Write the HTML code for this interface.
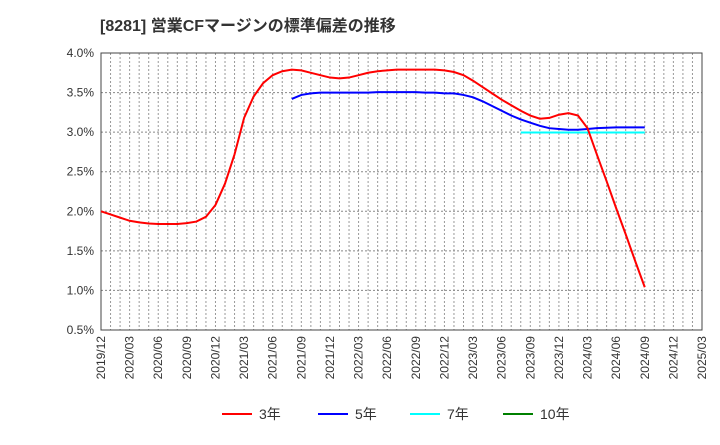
<!DOCTYPE html>
<html><head><meta charset="utf-8"><style>
body{margin:0;background:#fff;font-family:"Liberation Sans","Noto Sans CJK JP",sans-serif}
</style></head><body>
<svg id="c" width="720" height="440" xmlns="http://www.w3.org/2000/svg">
<text x="100" y="31" font-size="16" font-weight="bold" fill="#333" font-family="Liberation Sans, Noto Sans CJK JP, sans-serif">[8281] 営業CFマージンの標準偏差の推移</text>
<g id="grid"></g><g id="axes"></g><g id="series"></g><g id="legend"></g>
</svg>
<script>
const xLabels=["2019/12","2020/03","2020/06","2020/09","2020/12","2021/03","2021/06","2021/09","2021/12","2022/03","2022/06","2022/09","2022/12","2023/03","2023/06","2023/09","2023/12","2024/03","2024/06","2024/09","2024/12","2025/03"];
const yTicks=[0.5,1.0,1.5,2.0,2.5,3.0,3.5,4.0];
const red=[2.0,1.96,1.92,1.88,1.86,1.845,1.84,1.84,1.84,1.85,1.87,1.93,2.08,2.35,2.72,3.18,3.45,3.62,3.72,3.77,3.79,3.78,3.75,3.72,3.69,3.68,3.69,3.72,3.75,3.77,3.78,3.79,3.79,3.79,3.79,3.79,3.78,3.76,3.72,3.65,3.57,3.49,3.41,3.34,3.27,3.21,3.17,3.18,3.22,3.24,3.21,3.05,2.71,2.38,2.04,1.71,1.37,1.04];
const blueStart=20;
const blue=[3.42,3.47,3.49,3.50,3.50,3.50,3.50,3.50,3.50,3.505,3.505,3.505,3.505,3.505,3.50,3.50,3.49,3.49,3.47,3.44,3.39,3.33,3.27,3.21,3.16,3.12,3.08,3.05,3.04,3.03,3.03,3.04,3.05,3.055,3.06,3.06,3.06,3.06];
const cyanStart=44;
const cyan=[2.995,2.995,2.995,2.995,2.995,2.995,2.995,2.995,2.995,2.995,2.995,2.995,2.995,2.995];
const L=101,R=702,T=53,B=330,NM=63,yMin=0.5,yMax=4.0;
const X=i=>L+(R-L)*i/NM, Y=v=>B-(B-T)*(v-yMin)/(yMax-yMin);
const ns="http://www.w3.org/2000/svg";
function mk(t,a,p){const e=document.createElementNS(ns,t);for(const k in a)e.setAttribute(k,a[k]);p.appendChild(e);return e;}
const g=document.getElementById('grid'),ax=document.getElementById('axes'),s=document.getElementById('series'),lg=document.getElementById('legend');
for(let m=1;m<NM;m++){const l=mk('line',{x1:X(m),x2:X(m),y1:T,y2:B,stroke:'#999','stroke-dasharray':'2,2','stroke-width':1},g);

}
yTicks.forEach(v=>{const l=mk('line',{x1:L,x2:R,y1:Y(v),y2:Y(v),stroke:'#888','stroke-dasharray':'2,2','stroke-width':1},g);


const t=mk('text',{x:L-7,y:Y(v)+4,'text-anchor':'end','font-size':12,fill:'#333'},ax);t.textContent=v.toFixed(1)+'%';

});
const fr=mk('rect',{x:L,y:T,width:R-L,height:B-T,fill:'none',stroke:'#444','stroke-width':1},ax);


xLabels.forEach((lab,i)=>{const x=X(i*3);const t=mk('text',{x:x+4,y:B+6,'text-anchor':'end','font-size':12,fill:'#333',transform:`rotate(-90 ${x+4} ${B+6})`},ax);t.textContent=lab;

});
function line(arr,start,col,name){const p=mk('polyline',{points:arr.map((v,i)=>X(start+i)+','+Y(v)).join(' '),fill:'none',stroke:col,'stroke-width':2},s);

}
line(cyan,cyanStart,'#00ffff','series-7y');
line(blue,blueStart,'#0000ff','series-5y');
line(red,0,'#ff0000','series-3y');
const leg=[['3年','#ff0000',222],['5年','#0000ff',318],['7年','#00ffff',410],['10年','#008000',503]];
leg.forEach(([n,c,x])=>{const l=mk('line',{x1:x,x2:x+30,y1:414,y2:414,stroke:c,'stroke-width':2},lg);


const t=mk('text',{x:x+37,y:419,'font-size':14,fill:'#333'},lg);t.textContent=n;

});
</script>
</body></html>
